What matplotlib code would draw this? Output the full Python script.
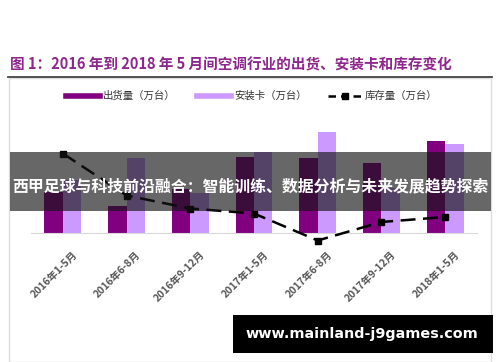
import matplotlib
matplotlib.use("Agg")
import matplotlib.pyplot as plt
import matplotlib.transforms as mtransforms
from matplotlib.patches import Rectangle
from matplotlib.lines import Line2D
import numpy as np

plt.rcParams['font.family'] = ['Noto Sans CJK SC', 'DejaVu Sans']

# data (万台)
periods = ['2016年1-5月', '2016年6-8月', '2016年9-12月', '2017年1-5月',
           '2017年6-8月', '2017年9-12月', '2018年1-5月']
shipment = [2050, 1370, 2200, 3820, 3770, 3490, 4620]     # 出货量
install = [2650, 3770, 2000, 4030, 5070, 2250, 4440]      # 安装卡
stock = [2390, 1550, 1290, 1190, 650, 1020, 1120]         # 库存量

W, H = 500, 362
fig = plt.figure(figsize=(W / 100, H / 100), dpi=100)

def fx(x):
    return x / W

def fy(y):
    return 1 - y / H

# axes: x 31..477 px, baseline at y=233, top at y=113
ax = fig.add_axes([fx(31), fy(233), fx(446), (233 - 113) / H])
x = np.arange(len(periods))
bw = 0.29
ax.bar(x - bw / 2, shipment, bw, color='#800080', zorder=2)
ax.bar(x + bw / 2, install, bw, color='#CC99FF', zorder=2)
ax.set_xlim(-0.5, len(periods) - 0.5)
ax.set_ylim(0, 6000)
ax.set_yticks([])
for s in ['top', 'right', 'left']:
    ax.spines[s].set_visible(False)
ax.spines['bottom'].set_color('#d9d9d9')
ax.set_xticks(x)
ax.set_xticklabels(periods, rotation=45, ha='right', rotation_mode='anchor',
                   fontsize=7.4, color='#555555', fontweight='bold')
ax.tick_params(axis='x', length=0, pad=12)
off = mtransforms.ScaledTranslation(9 / 100, 0, fig.dpi_scale_trans)
for lab in ax.get_xticklabels():
    lab.set_transform(lab.get_transform() + off)

ax2 = ax.twinx()
ax2.plot(x, stock, color='black', lw=1.8, ls=(0, (6, 3)), marker='s',
         markersize=5, clip_on=False, zorder=3)
ax2.set_ylim(800, 3200)
ax2.set_yticks([])
ax2.axis('off')

# title and frame
fig.text(fx(10), fy(65), '图 1：2016 年到 2018 年 5 月间空调行业的出货、安装卡和库存变化',
         fontsize=10.5, fontweight='bold', color='#8E268E', va='center', ha='left')
fig.add_artist(Line2D([fx(8), fx(492)], [fy(76.5), fy(76.5)], color='#444444', lw=1.3))
fig.add_artist(Rectangle((fx(9), 0), fx(482), fy(77.5), fill=False,
                         edgecolor='#dddddd', lw=1))

# legend
handles = [Line2D([], [], color='#800080', lw=4),
           Line2D([], [], color='#CC99FF', lw=4),
           Line2D([], [], color='black', lw=1.8, ls=(0, (3, 2)), marker='s', markersize=4)]
labels = ['出货量（万台）', '安装卡（万台）', '库存量（万台）']
fig.legend(handles, labels, loc='center', bbox_to_anchor=(fx(252), fy(96)), ncol=3,
           frameon=False, fontsize=7.5, handlelength=3.2, handletextpad=0.3,
           columnspacing=2.1, labelcolor='#333333')

# overlay banner
fig.add_artist(Rectangle((fx(10), fy(211)), fx(481), (211 - 152) / H,
                         facecolor='#151515', alpha=0.65, edgecolor='none', zorder=5))
fig.text(fx(250), fy(186), '西甲足球与科技前沿融合：智能训练、数据分析与未来发展趋势探索',
         fontsize=11.45, fontweight='bold', color='white', ha='center', va='center', zorder=6)

# watermark box
fig.add_artist(Rectangle((fx(233), fy(353)), fx(260), (353 - 315) / H,
                         facecolor='black', edgecolor='none', zorder=5))
fig.text(fx(362), fy(334), 'www.mainland-j9games.com', fontsize=10.4, fontweight='bold',
         color='white', ha='center', va='center', zorder=6, family='DejaVu Sans')

fig.savefig('out.png', dpi=100)
